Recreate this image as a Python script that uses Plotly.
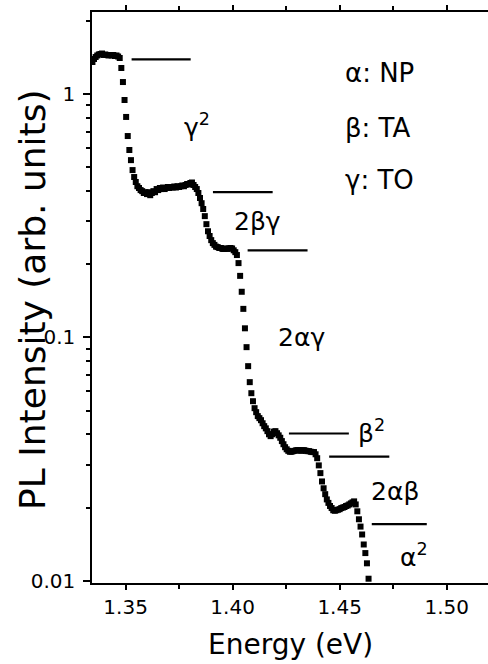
import numpy as np
import plotly.graph_objects as go

# Photon energy (eV)
energy = [
    1.33450, 1.33525, 1.33600, 1.33675, 1.33750, 1.33825, 1.33900, 1.33975, 1.34050, 1.34125,
    1.34200, 1.34275, 1.34350, 1.34425, 1.34500, 1.34575, 1.34650, 1.34725, 1.34800, 1.34875,
    1.34950, 1.35025, 1.35100, 1.35175, 1.35250, 1.35325, 1.35400, 1.35475, 1.35550, 1.35625,
    1.35700, 1.35775, 1.35850, 1.35925, 1.36000, 1.36075, 1.36150, 1.36225, 1.36300, 1.36375,
    1.36450, 1.36525, 1.36600, 1.36675, 1.36750, 1.36825, 1.36900, 1.36975, 1.37050, 1.37125,
    1.37200, 1.37275, 1.37350, 1.37425, 1.37500, 1.37575, 1.37650, 1.37725, 1.37800, 1.37875,
    1.37950, 1.38025, 1.38100, 1.38175, 1.38250, 1.38325, 1.38400, 1.38475, 1.38550, 1.38625,
    1.38700, 1.38775, 1.38850, 1.38925, 1.39000, 1.39075, 1.39150, 1.39225, 1.39300, 1.39375,
    1.39450, 1.39525, 1.39600, 1.39675, 1.39750, 1.39825, 1.39900, 1.39975, 1.40050, 1.40125,
    1.40200, 1.40275, 1.40350, 1.40425, 1.40500, 1.40575, 1.40650, 1.40725, 1.40800, 1.40875,
    1.40950, 1.41025, 1.41100, 1.41175, 1.41250, 1.41325, 1.41400, 1.41475, 1.41550, 1.41625,
    1.41700, 1.41775, 1.41850, 1.41925, 1.42000, 1.42075, 1.42150, 1.42225, 1.42300, 1.42375,
    1.42450, 1.42525, 1.42600, 1.42675, 1.42750, 1.42825, 1.42900, 1.42975, 1.43050, 1.43125,
    1.43200, 1.43275, 1.43350, 1.43425, 1.43500, 1.43575, 1.43650, 1.43725, 1.43800, 1.43875,
    1.43950, 1.44025, 1.44100, 1.44175, 1.44250, 1.44325, 1.44400, 1.44475, 1.44550, 1.44625,
    1.44700, 1.44775, 1.44850, 1.44925, 1.45000, 1.45075, 1.45150, 1.45225, 1.45300, 1.45375,
    1.45450, 1.45525, 1.45600, 1.45675, 1.45750, 1.45825, 1.45900, 1.45975, 1.46050, 1.46125,
    1.46200, 1.46275, 1.46350,
]

# PL intensity (arb. units)
intensity = [
    1.354, 1.393, 1.419, 1.440, 1.454, 1.460, 1.467, 1.447, 1.454, 1.447,
    1.440, 1.447, 1.440, 1.447, 1.433, 1.440, 1.426, 1.406, 1.279, 1.120,
    0.945, 0.805, 0.672, 0.589, 0.535, 0.487, 0.456, 0.435, 0.418, 0.411,
    0.403, 0.399, 0.392, 0.395, 0.388, 0.395, 0.384, 0.392, 0.399, 0.395,
    0.407, 0.403, 0.411, 0.407, 0.413, 0.407, 0.411, 0.415, 0.411, 0.415,
    0.413, 0.417, 0.413, 0.418, 0.415, 0.418, 0.421, 0.418, 0.423, 0.427,
    0.425, 0.431, 0.433, 0.423, 0.415, 0.407, 0.392, 0.374, 0.356, 0.337,
    0.315, 0.292, 0.273, 0.261, 0.251, 0.244, 0.240, 0.236, 0.235, 0.233,
    0.233, 0.231, 0.231, 0.232, 0.231, 0.232, 0.233, 0.232, 0.228, 0.224,
    0.218, 0.202, 0.179, 0.154, 0.131, 0.109, 0.0912, 0.0762, 0.0655, 0.0590,
    0.0547, 0.0512, 0.0493, 0.0475, 0.0466, 0.0457, 0.0444, 0.0432, 0.0423, 0.0412,
    0.0400, 0.0393, 0.0400, 0.0410, 0.0412, 0.0404, 0.0396, 0.0387, 0.0375, 0.0364,
    0.0354, 0.0347, 0.0342, 0.0339, 0.0339, 0.0341, 0.0342, 0.0344, 0.0344, 0.0344,
    0.0342, 0.0344, 0.0344, 0.0342, 0.0341, 0.0341, 0.0339, 0.0338, 0.0338, 0.0331,
    0.0319, 0.0298, 0.0277, 0.0256, 0.0240, 0.0227, 0.0216, 0.0209, 0.0203, 0.0199,
    0.0195, 0.0194, 0.0195, 0.0196, 0.0197, 0.0199, 0.0200, 0.0201, 0.0203, 0.0204,
    0.0206, 0.0208, 0.0210, 0.0212, 0.0206, 0.0193, 0.0179, 0.0167, 0.0155, 0.0141,
    0.0130, 0.0118, 0.0102,
]

# Horizontal reference levels (start energy, end energy, intensity)
level_x0 = [1.3528, 1.3908, 1.4070, 1.4263, 1.4451, 1.4650]
level_x1 = [1.3804, 1.4187, 1.4350, 1.4543, 1.4732, 1.4907]
level_y = [1.389, 0.395, 0.228, 0.0403, 0.0324, 0.0171]

# Replica labels
label_text = ["γ<sup>2</sup>", "2βγ", "2αγ", "β<sup>2</sup>", "2αβ", "α<sup>2</sup>"]
label_x = [1.3833, 1.4116, 1.4320, 1.4650, 1.4758, 1.4848]
label_y = [0.739, 0.3005, 0.1002, 0.0412, 0.0232, 0.01273]

# Phonon key
key_text = ["α: NP", "β: TA", "γ: TO"]
key_x = 1.4515
key_y = [1.220, 0.7247, 0.4429]

xtick_vals = [1.35, 1.40, 1.45, 1.50]
xtick_text = ["1.35", "1.40", "1.45", "1.50"]
xminor_vals = [1.375, 1.425, 1.475]
ytick_vals = [0.01, 0.1, 1]
ytick_text = ["0.01", "0.1", "1"]
yminor_vals = [0.02, 0.03, 0.04, 0.05, 0.06, 0.07, 0.08, 0.09,
               0.2, 0.3, 0.4, 0.5, 0.6, 0.7, 0.8, 0.9, 2]

FONT = "DejaVu Sans"

fig = go.Figure()
fig.add_trace(go.Scatter(
    x=energy, y=intensity, mode="markers",
    marker=dict(symbol="square", size=6, color="black", line=dict(width=0)),
    showlegend=False, cliponaxis=True,
))

for x0, x1, yv in zip(level_x0, level_x1, level_y):
    fig.add_trace(go.Scatter(
        x=[x0, x1], y=[yv, yv], mode="lines",
        line=dict(color="black", width=2.2), showlegend=False,
    ))

annotations = []
for t, x, yv in zip(label_text, label_x, label_y):
    annotations.append(dict(
        x=x, y=float(np.log10(yv)), xref="x", yref="y", text=t, showarrow=False,
        xanchor="center", yanchor="middle", font=dict(family=FONT, size=25, color="black"),
    ))
for t, yv in zip(key_text, key_y):
    annotations.append(dict(
        x=key_x, y=float(np.log10(yv)), xref="x", yref="y", text=t, showarrow=False,
        xanchor="left", yanchor="middle", font=dict(family=FONT, size=26, color="black"),
    ))
annotations.append(dict(
    x=0.5, y=-0.108, xref="paper", yref="paper", text="Energy (eV)", showarrow=False,
    xanchor="center", yanchor="middle", font=dict(family=FONT, size=28, color="black"),
))
annotations.append(dict(
    x=-0.152, y=0.497, xref="paper", yref="paper", text="PL Intensity (arb. units)",
    showarrow=False, textangle=-90, xanchor="center", yanchor="middle",
    font=dict(family=FONT, size=36, color="black"),
))

fig.update_layout(
    width=488, height=664,
    margin=dict(l=92, r=0, t=12, b=81),
    paper_bgcolor="white", plot_bgcolor="white",
    font=dict(family=FONT, size=20, color="black"),
    annotations=annotations,
    showlegend=False,
)
fig.update_xaxes(
    range=[1.3343, 1.5193], tickmode="array", tickvals=xtick_vals, ticktext=xtick_text,
    ticks="outside", ticklen=5, tickwidth=1.5, tickcolor="black",
    showline=True, linecolor="black", linewidth=1.5, mirror="ticks",
    showgrid=False, zeroline=False,
    minor=dict(tickmode="array", tickvals=xminor_vals, ticks="outside", ticklen=4,
               tickwidth=1.5, tickcolor="black", showgrid=False),
    tickfont=dict(family=FONT, size=20, color="black"),
)
fig.update_yaxes(
    type="log", range=[-2.009, 0.337], tickmode="array", tickvals=ytick_vals, ticktext=ytick_text,
    ticks="outside", ticklen=7, tickwidth=1.5, tickcolor="black",
    showline=True, linecolor="black", linewidth=1.5, mirror=False,
    showgrid=False, zeroline=False,
    minor=dict(tickmode="array", tickvals=yminor_vals, ticks="outside", ticklen=4,
               tickwidth=1.5, tickcolor="black", showgrid=False),
    tickfont=dict(family=FONT, size=20, color="black"),
    ticklabelstandoff=4,
)

fig.write_html("out.html")
